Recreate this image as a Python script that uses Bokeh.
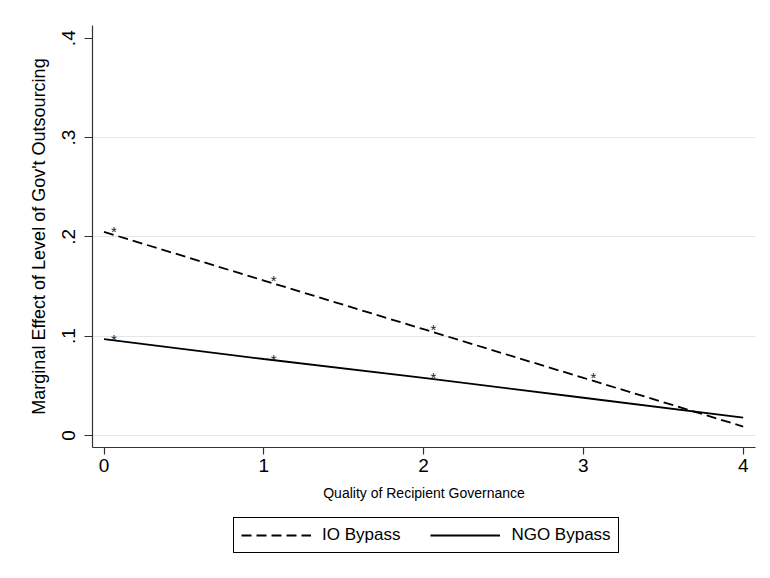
from bokeh.plotting import figure
from bokeh.layouts import column
from bokeh.models import ColumnDataSource, Legend, LegendItem, FixedTicker, Range1d
from bokeh.core.properties import value
from bokeh.embed import file_html
from bokeh.resources import INLINE

# ---- data ----
governance = [0, 1, 2, 3, 4]
io_bypass = [0.205, 0.156, 0.107, 0.058, 0.009]
ngo_bypass = [0.097, 0.077, 0.058, 0.038, 0.018]
io_sig = ["*", "*", "*", "*", ""]
ngo_sig = ["*", "*", "*", "", ""]
x_ticks = [0, 1, 2, 3, 4]
y_ticks = [0, 0.1, 0.2, 0.3, 0.4]
y_tick_labels = ["0", ".1", ".2", ".3", ".4"]
grid_ticks = [0, 0.1, 0.2, 0.3]
series_names = ["IO Bypass", "NGO Bypass"]

FONT = "Liberation Sans"
IO_STYLE = dict(line_color="black", line_width=1.8, line_dash="10 5")
NGO_STYLE = dict(line_color="black", line_width=1.8)

p = figure(width=770, height=510, output_backend="svg", toolbar_location=None,
           x_range=Range1d(-0.072, 4.077), y_range=Range1d(-0.0121, 0.4128),
           min_border_left=92, min_border_right=15, min_border_top=25, min_border_bottom=63)
p.outline_line_color = None
p.background_fill_color = "white"
p.border_fill_color = "white"

src_io = ColumnDataSource(dict(x=governance, y=io_bypass, s=io_sig))
src_ngo = ColumnDataSource(dict(x=governance, y=ngo_bypass, s=ngo_sig))

p.line("x", "y", source=src_io, **IO_STYLE)
p.line("x", "y", source=src_ngo, **NGO_STYLE)

for src in (src_io, src_ngo):
    p.text("x", "y", text="s", source=src, x_offset=7, y_offset=0,
           text_font=value(FONT), text_font_size="15px", text_color="#222222",
           text_align="left", text_baseline="middle")

# axes
xa = p.xaxis[0]
ya = p.yaxis[0]
xa.ticker = FixedTicker(ticks=x_ticks)
ya.ticker = FixedTicker(ticks=y_ticks)
ya.major_label_overrides = {t: l for t, l in zip(y_ticks, y_tick_labels)}
for ax in (xa, ya):
    ax.axis_line_color = "#333333"
    ax.axis_line_width = 1.2
    ax.major_tick_line_color = "#333333"
    ax.major_tick_line_width = 1.2
    ax.major_tick_in = 0
    ax.minor_tick_line_color = None
    ax.major_label_text_font = FONT
    ax.major_label_text_font_size = "19px"
    ax.major_label_text_color = "black"
    ax.axis_label_text_font = FONT
    ax.axis_label_text_font_style = "normal"
    ax.axis_label_text_color = "black"
xa.major_tick_out = 7
ya.major_tick_out = 8
ya.major_label_orientation = "vertical"
xa.major_label_standoff = 4
ya.major_label_standoff = 9
xa.axis_label = "Quality of Recipient Governance"
xa.axis_label_text_font_size = "14px"
xa.axis_label_standoff = 10
ya.axis_label = "Marginal Effect of Level of Gov't Outsourcing"
ya.axis_label_text_font_size = "18px"
ya.axis_label_standoff = 11

p.xgrid.visible = False
p.ygrid.ticker = FixedTicker(ticks=grid_ticks)
p.ygrid.grid_line_color = "#e6e6e6"
p.ygrid.grid_line_width = 1

# legend strip below the chart (its ranges keep the series lines out of view)
lg = figure(width=770, height=68, output_backend="svg", toolbar_location=None,
            x_axis_type=None, y_axis_type=None, min_border=0,
            x_range=Range1d(0, 1), y_range=Range1d(5, 6))
lg.outline_line_color = None
lg.xgrid.visible = False
lg.ygrid.visible = False
lg.background_fill_color = "white"
lg.border_fill_color = "white"
l_io = lg.line("x", "y", source=src_io, **IO_STYLE)
l_ngo = lg.line("x", "y", source=src_ngo, **NGO_STYLE)

legend = Legend(items=[LegendItem(label=series_names[0], renderers=[l_io]),
                       LegendItem(label=series_names[1], renderers=[l_ngo])],
                orientation="horizontal", location=(141, 25),
                border_line_color="black", border_line_width=1, border_line_alpha=1.0,
                padding=7, spacing=30, glyph_width=70, label_standoff=11,
                label_text_font=FONT, label_text_font_size="17px", label_text_color="black",
                margin=0, background_fill_color="white", background_fill_alpha=1.0)
lg.add_layout(legend, "center")

layout = column(p, lg, spacing=0)
open("out.html", "w").write(file_html(layout, INLINE))
